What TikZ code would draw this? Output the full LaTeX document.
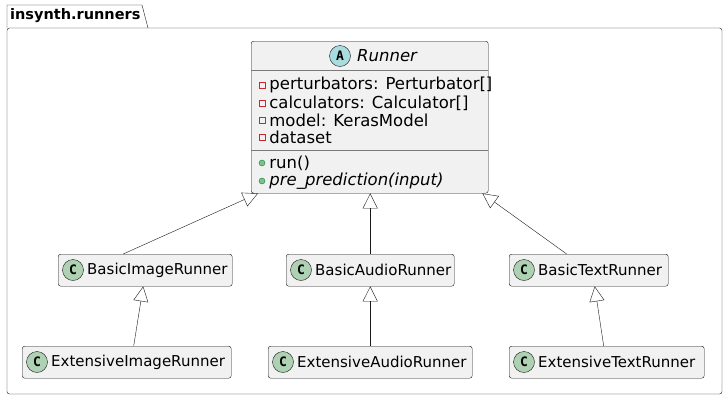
\documentclass[tikz,border=0pt]{standalone}
\usepackage{fontspec}
\setmainfont{DejaVu Sans}
\newfontfamily\icofont{DejaVu Sans Mono}
\usetikzlibrary{arrows.meta,positioning}
\definecolor{boxfill}{HTML}{F1F1F1}
\definecolor{boxline}{HTML}{181818}
\definecolor{sepline}{HTML}{7A7A7A}
\definecolor{cgreen}{HTML}{ADD1B2}
\definecolor{acyan}{HTML}{A9DCDF}
\definecolor{privred}{HTML}{C82930}
\definecolor{pubfill}{HTML}{84BE84}
\definecolor{publine}{HTML}{038048}
\tikzset{
 cls/.style={draw=boxline, fill=boxfill, rounded corners=2.5pt, minimum height=32pt, inner sep=0pt},
 ico/.style={circle, draw=boxline, minimum size=21pt, inner sep=0pt, font=\icofont\fontsize{13}{13}\bfseries},
 txt/.style={anchor=west, inner sep=0pt, font=\fontsize{15}{17}\selectfont},
 att/.style={anchor=west, inner sep=0pt, font=\fontsize{16.5}{18}\selectfont},
 inh/.style={draw=boxline, -{Triangle[open, length=15pt, width=15pt]}},
 priv/.style={draw=privred, fill=none, minimum size=6pt, inner sep=0pt},
 pub/.style={circle, draw=publine, fill=pubfill, minimum size=6pt, inner sep=0pt},
}
\begin{document}
\begin{tikzpicture}[x=1pt,y=-1pt]
\useasboundingbox (0,0) rectangle (728,400);

% package
\draw[boxline] (7,28) -- (7,5) -- (142,5) -- (148,28);
\draw[boxline, rounded corners=2.5pt] (7,28) rectangle (722,394);
\node[txt, font=\fontsize{14.5}{16}\bfseries] (pkg) at (10,16) {insynth.runners};

% abstract class
\node[cls, minimum width=237pt, minimum height=152pt, anchor=north west] (runner) at (251,41) {};
\draw[sepline] (251,70) -- (488,70);
\draw[sepline] (251,150) -- (488,150);
\node[ico, fill=acyan] (runnerico) at (340,56) {A};
\node[att, font=\fontsize{16.5}{18}\itshape] (runnertitle) at (357,56) {Runner};

\node[priv] (p1) at (262,85) {};
\node[att, right=4pt of p1] (perturbators) {perturbators: Perturbator[]};
\node[priv] (p2) at (262,103) {};
\node[att, right=4pt of p2] (calculators) {calculators: Calculator[]};
\node[priv] (p3) at (262,120) {};
\node[att, right=4pt of p3] (model) {model: KerasModel};
\node[priv] (p4) at (262,137) {};
\node[att, right=4pt of p4] (dataset) {dataset};
\node[pub] (m1) at (262,163) {};
\node[att, right=4pt of m1] (run) {run()};
\node[pub] (m2) at (262,181) {};
\node[att, right=4pt of m2, font=\fontsize{16.5}{18}\itshape] (preprediction) {pre\_prediction(input)};

% concrete classes
\node[cls, minimum width=174pt, anchor=north west] (bimg) at (58,254) {};
\node[ico, fill=cgreen] at (73,270) {C};
\node[txt] at (87,270) {BasicImageRunner};

\node[cls, minimum width=168pt, anchor=north west] (baud) at (286,254) {};
\node[ico, fill=cgreen] at (301,270) {C};
\node[txt] at (315,270) {BasicAudioRunner};

\node[cls, minimum width=159pt, anchor=north west] (btxt) at (509,254) {};
\node[ico, fill=cgreen] at (524,270) {C};
\node[txt] at (538,270) {BasicTextRunner};

\node[cls, minimum width=209pt, anchor=north west] (eimg) at (22,346) {};
\node[ico, fill=cgreen] at (37,362) {C};
\node[txt] at (51,362) {ExtensiveImageRunner};

\node[cls, minimum width=204pt, anchor=north west] (eaud) at (268,346) {};
\node[ico, fill=cgreen] at (283,362) {C};
\node[txt] at (297,362) {ExtensiveAudioRunner};

\node[cls, minimum width=195pt, anchor=north west] (etxt) at (509,346) {};
\node[ico, fill=cgreen] at (524,362) {C};
\node[txt] at (538,362) {ExtensiveTextRunner};

% inheritance
\draw[inh] ([xshift=-22pt]bimg.north) -- ([xshift=7pt]runner.south west);
\draw[inh] (baud.north) -- ([xshift=0.5pt]runner.south);
\draw[inh] ([xshift=-22pt]btxt.north) -- ([xshift=-6pt]runner.south east);
\draw[inh] ([xshift=7pt]eimg.north) -- ([xshift=-2pt]bimg.south);
\draw[inh] (eaud.north) -- (baud.south);
\draw[inh] ([xshift=-3pt]etxt.north) -- ([xshift=6pt]btxt.south);
\end{tikzpicture}
\end{document}
